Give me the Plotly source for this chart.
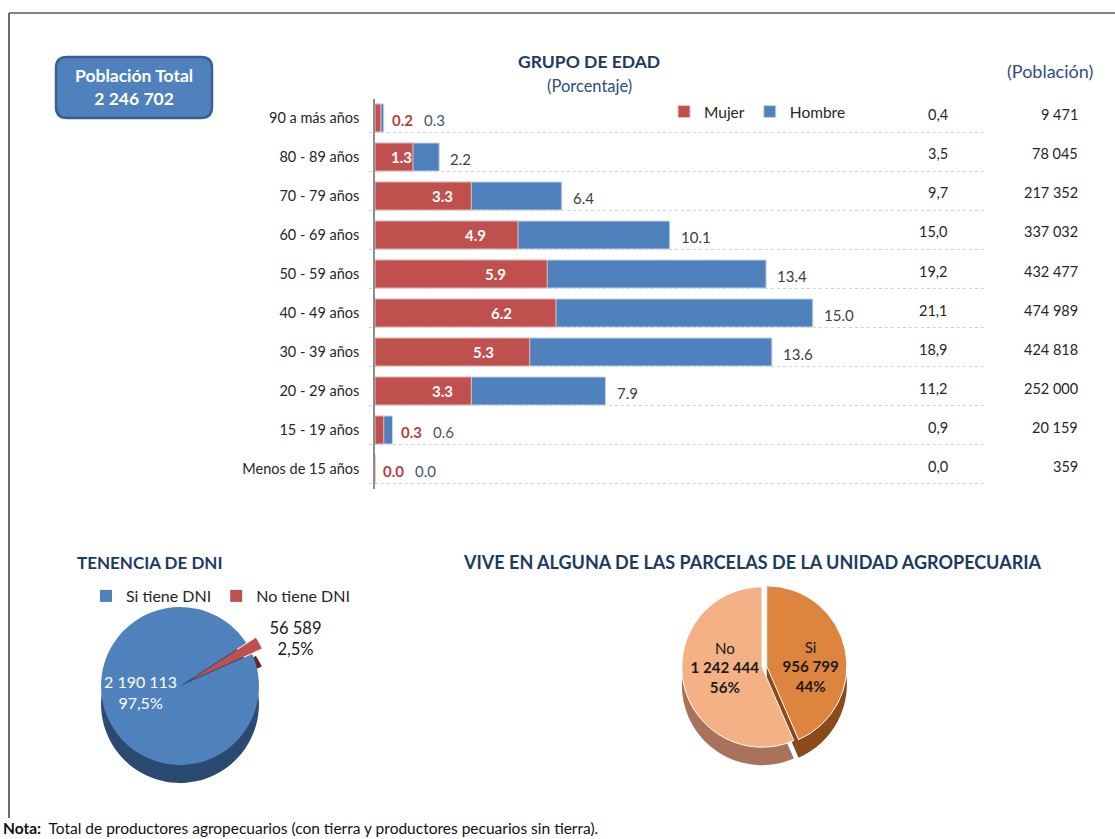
import plotly.graph_objects as go

W, H = 1115, 839


def px(x):
    return x / W


def py(y):
    return 1 - y / H


# ---------------- data ----------------
grupos = ["90 a más años", "80 - 89 años", "70 - 79 años", "60 - 69 años",
          "50 - 59 años", "40 - 49 años", "30 - 39 años", "20 - 29 años",
          "15 - 19 años", "Menos de 15 años"]
mujer = [0.2, 1.3, 3.3, 4.9, 5.9, 6.2, 5.3, 3.3, 0.3, 0.0]
hombre = [0.3, 2.2, 6.4, 10.1, 13.4, 15.0, 13.6, 7.9, 0.6, 0.0]
total_pct = ["0,4", "3,5", "9,7", "15,0", "19,2", "21,1", "18,9", "11,2", "0,9", "0,0"]
poblacion = ["9 471", "78 045", "217 352", "337 032", "432 477", "474 989",
             "424 818", "252 000", "20 159", "359"]
poblacion_total = "2 246 702"

dni_labels = ["Si tiene DNI", "No tiene DNI"]
dni_values = [2190113, 56589]
dni_num = ["2 190 113", "56 589"]
dni_pct = ["97,5%", "2,5%"]

vive_labels = ["Si", "No"]
vive_values = [956799, 1242444]
vive_num = ["956 799", "1 242 444"]
vive_pct = ["44%", "56%"]

# ---------------- style ----------------
FONT = "Lato"
RED = "#C0504D"
BLUE = "#4F81BD"
NAVY = "#1B3A63"
MIDBLUE = "#2E4D7B"
DARK = "#262626"

fig = go.Figure()

# ---------------- bar chart ----------------
fig.add_trace(go.Bar(
    y=grupos, x=hombre, orientation="h", name="Hombre",
    marker=dict(color=BLUE, line=dict(color="#C9D6EA", width=1)),
    opacity=1, legendrank=2, hoverinfo="x+name",
))
fig.add_trace(go.Bar(
    y=grupos, x=mujer, orientation="h", name="Mujer",
    marker=dict(color=RED, line=dict(color="#E6C3C2", width=1)),
    opacity=1, legendrank=1, hoverinfo="x+name",
))

annotations = []
shapes = []

for i, g in enumerate(grupos):
    m, h = mujer[i], hombre[i]
    if m >= 1:
        annotations.append(dict(
            x=m * 0.70, y=g, xref="x", yref="y", text=f"<b>{m:.1f}</b>",
            showarrow=False, font=dict(family=FONT, size=15, color="white"),
            xanchor="center", yanchor="middle"))
        annotations.append(dict(
            x=h, y=g, xref="x", yref="y", text=f"{h:.1f}", showarrow=False,
            font=dict(family=FONT, size=15, color="#404040"),
            xanchor="left", yanchor="middle", xshift=9, yshift=-2))
    else:
        annotations.append(dict(
            x=h, y=g, xref="x", yref="y", text=f"<b>{m:.1f}</b>",
            showarrow=False, font=dict(family=FONT, size=15, color="#B5403D"),
            xanchor="left", yanchor="middle", xshift=6, yshift=-2))
        annotations.append(dict(
            x=h, y=g, xref="x", yref="y", text=f"{h:.1f}", showarrow=False,
            font=dict(family=FONT, size=15, color="#44546A"),
            xanchor="left", yanchor="middle", xshift=38, yshift=-2))
    # right-hand columns
    annotations.append(dict(
        x=px(950), y=g, xref="paper", yref="y", text=total_pct[i],
        showarrow=False, font=dict(family=FONT, size=14.5, color=DARK),
        xanchor="right", yanchor="middle", yshift=3))
    annotations.append(dict(
        x=px(1080), y=g, xref="paper", yref="y", text=poblacion[i],
        showarrow=False, font=dict(family=FONT, size=14.5, color=DARK),
        xanchor="right", yanchor="middle", yshift=3))
    # dotted row separator
    shapes.append(dict(
        type="line", xref="x domain", yref="y", x0=-0.01, x1=1,
        y0=i + 0.37, y1=i + 0.37, layer="below",
        line=dict(color="#C5CFDF", width=1, dash="dot")))

# ---------------- pies ----------------
shift = 18
dni_dom_x = [px(90), px(270)]
dni_dom_y = [py(776), py(596)]
fig.add_trace(go.Pie(
    labels=["s_a", "s_b"], values=dni_values, sort=False,
    direction="clockwise", rotation=66, pull=[0, 0.14],
    marker=dict(colors=["#2B4A71", "#6E2321"]), textinfo="none",
    hoverinfo="skip", showlegend=False,
    domain=dict(x=dni_dom_x, y=[py(776 + shift), py(596 + shift)]),
))
fig.add_trace(go.Pie(
    labels=dni_labels, values=dni_values, sort=False,
    direction="clockwise", rotation=66, pull=[0, 0.14],
    marker=dict(colors=[BLUE, RED]),
    text=["", f"{dni_num[1]}<br>{dni_pct[1]}"],
    textinfo="text", textposition=["none", "outside"],
    outsidetextfont=dict(family=FONT, size=16.5, color="#1A1A1A"),
    legend="legend2", domain=dict(x=dni_dom_x, y=dni_dom_y),
))

vive_dom_x = [px(677), px(847)]
vive_dom_y = [py(752), py(582)]
fig.add_trace(go.Pie(
    labels=["v_a", "v_b"], values=vive_values, sort=False,
    direction="clockwise", rotation=0, pull=[0.06, 0],
    marker=dict(colors=["#8A4A1C", "#A8735A"]), textinfo="none",
    hoverinfo="skip", showlegend=False,
    domain=dict(x=vive_dom_x, y=[py(752 + shift), py(582 + shift)]),
))
fig.add_trace(go.Pie(
    labels=vive_labels, values=vive_values, sort=False,
    direction="clockwise", rotation=0, pull=[0.06, 0],
    marker=dict(colors=["#DD843E", "#F4B186"], line=dict(color="white", width=1)),
    text=[f"{l}<br><b>{n}</b><br><b>{p}</b>" for l, n, p in zip(vive_labels, vive_num, vive_pct)],
    textinfo="text", textposition="inside", insidetextorientation="horizontal",
    insidetextfont=dict(family=FONT, size=16, color="#1A1A1A"),
    showlegend=False, domain=dict(x=vive_dom_x, y=vive_dom_y),
))

# ---------------- titles & texts ----------------
def label(x, y, text, size, color, xanchor="center", yanchor="middle"):
    return dict(x=px(x), y=py(y), xref="paper", yref="paper", showarrow=False,
                xanchor=xanchor, yanchor=yanchor, text=text,
                font=dict(family=FONT, size=size, color=color))


annotations += [
    label(589, 62, "<b>GRUPO DE EDAD</b>", 17.5, NAVY),
    label(589, 86, "(Porcentaje)", 16.5, MIDBLUE),
    label(1050, 71, "(Población)", 18, MIDBLUE),
    label(134, 87, f"<b>Población Total<br>{poblacion_total}</b>", 17.5, "white"),
    label(150, 562, "<b>TENENCIA DE DNI</b>", 17, NAVY),
    label(752, 562, "<b>VIVE EN ALGUNA DE LAS PARCELAS DE LA UNIDAD AGROPECUARIA</b>", 18, NAVY),
    label(140, 692, f"{dni_num[0]}<br>{dni_pct[0]}", 16, "white"),
    label(1, 839, "<b>Nota:</b>  Total de productores agropecuarios (con tierra y productores pecuarios sin tierra).",
          15.5, "#111111", xanchor="left", yanchor="bottom"),
]

# rounded box for total population
x0, x1, y0, y1, r = 56, 212, 57, 118, 11
path = (f"M {px(x0 + r)},{py(y0)} L {px(x1 - r)},{py(y0)} "
        f"Q {px(x1)},{py(y0)} {px(x1)},{py(y0 + r)} "
        f"L {px(x1)},{py(y1 - r)} Q {px(x1)},{py(y1)} {px(x1 - r)},{py(y1)} "
        f"L {px(x0 + r)},{py(y1)} Q {px(x0)},{py(y1)} {px(x0)},{py(y1 - r)} "
        f"L {px(x0)},{py(y0 + r)} Q {px(x0)},{py(y0)} {px(x0 + r)},{py(y0)} Z")
shapes.append(dict(type="path", xref="paper", yref="paper", path=path,
                   fillcolor=BLUE, line=dict(color="#3B618F", width=2.5), layer="below"))

# frame lines
shapes.append(dict(type="line", xref="paper", yref="paper",
                   x0=px(9), x1=px(1115), y0=py(13), y1=py(13),
                   line=dict(color="#5A5A5A", width=1.5)))
shapes.append(dict(type="line", xref="paper", yref="paper",
                   x0=px(9), x1=px(9), y0=py(13), y1=py(818),
                   line=dict(color="#3A3A3A", width=1.5)))

fig.update_layout(
    width=W, height=H, margin=dict(l=0, r=0, t=0, b=0),
    paper_bgcolor="white", plot_bgcolor="white",
    font=dict(family=FONT, color=DARK),
    barmode="overlay", bargap=0.28,
    xaxis=dict(domain=[px(375), px(985)], range=[0, 20.9], visible=False,
               fixedrange=True),
    yaxis=dict(domain=[py(488.5), py(98.5)], categoryorder="array",
               categoryarray=grupos, autorange="reversed",
               showline=True, linecolor="#8C8C8C", linewidth=1.5,
               ticks="", ticklabelstandoff=11, showgrid=False,
               tickfont=dict(family=FONT, size=14.5, color=DARK), fixedrange=True),
    legend=dict(orientation="h", x=px(664), y=py(112), xanchor="left",
                yanchor="middle", font=dict(family=FONT, size=15.5, color=DARK),
                bgcolor="rgba(0,0,0,0)", itemwidth=30, traceorder="normal"),
    legend2=dict(orientation="h", x=px(86), y=py(596), xanchor="left",
                 yanchor="middle", font=dict(family=FONT, size=16, color=DARK),
                 bgcolor="rgba(0,0,0,0)", itemwidth=30),
    annotations=annotations,
    shapes=shapes,
    showlegend=True,
)

fig.write_html("out.html", config={"displayModeBar": False},
               post_script="document.body.style.margin='0';")
